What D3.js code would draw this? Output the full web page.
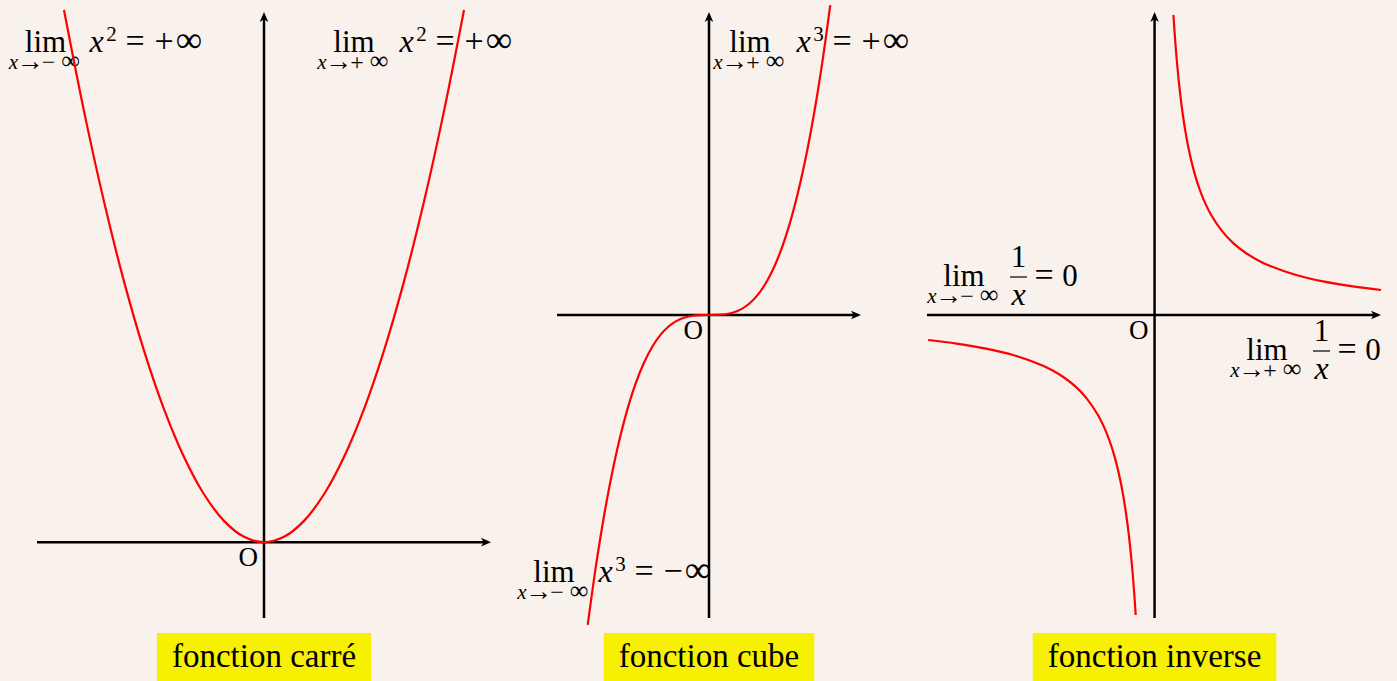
<!DOCTYPE html>
<html>
<head>
<meta charset="utf-8">
<script src="https://cdn.jsdelivr.net/npm/d3@7"></script>
<style>
  html, body { margin: 0; padding: 0; background: #f8f1ec; }
  svg { display: block; }
  text { font-family: "Liberation Serif", "Times New Roman", serif; fill: #000; }
</style>
</head>
<body>
<svg id="chart" width="1397" height="681"></svg>
<script>
// ---- sampled values of the three reference functions ----
// y = x²
const squareX = [-2, -1.8, -1.6, -1.4, -1.2, -1, -0.8, -0.6, -0.4, -0.2, 0, 0.2, 0.4, 0.6, 0.8, 1, 1.2, 1.4, 1.6, 1.8, 2];
const squareY = [4, 3.24, 2.56, 1.96, 1.44, 1, 0.64, 0.36, 0.16, 0.04, 0, 0.04, 0.16, 0.36, 0.64, 1, 1.44, 1.96, 2.56, 3.24, 4];

// y = x³
const cubeX = [-1.5, -1.4, -1.3, -1.2, -1.1, -1, -0.9, -0.8, -0.7, -0.6, -0.5, -0.4, -0.3, -0.2, -0.1, 0,
               0.1, 0.2, 0.3, 0.4, 0.5, 0.6, 0.7, 0.8, 0.9, 1, 1.1, 1.2, 1.3, 1.4, 1.5];
const cubeY = [-3.375, -2.744, -2.197, -1.728, -1.331, -1, -0.729, -0.512, -0.343, -0.216, -0.125, -0.064, -0.027, -0.008, -0.001, 0,
               0.001, 0.008, 0.027, 0.064, 0.125, 0.216, 0.343, 0.512, 0.729, 1, 1.331, 1.728, 2.197, 2.744, 3.375];

// y = 1/x, branch x > 0
const inversePosX = [0.3333, 0.36, 0.4, 0.45, 0.5, 0.55, 0.6, 0.7, 0.8, 0.9, 1, 1.2, 1.4, 1.6, 1.8, 2, 2.5, 3, 3.5, 4];
const inversePosY = [3, 2.7778, 2.5, 2.2222, 2, 1.8182, 1.6667, 1.4286, 1.25, 1.1111, 1, 0.8333, 0.7143, 0.625, 0.5556, 0.5, 0.4, 0.3333, 0.2857, 0.25];
// y = 1/x, branch x < 0
const inverseNegX = [-4, -3.5, -3, -2.5, -2, -1.8, -1.6, -1.4, -1.2, -1, -0.9, -0.8, -0.7, -0.6, -0.55, -0.5, -0.45, -0.4, -0.36, -0.3333];
const inverseNegY = [-0.25, -0.2857, -0.3333, -0.4, -0.5, -0.5556, -0.625, -0.7143, -0.8333, -1, -1.1111, -1.25, -1.4286, -1.6667, -1.8182, -2, -2.2222, -2.5, -2.7778, -3];

// axis extents (in function units) for each graph
const squareAxisX = [-2.27, 2.27];
const squareAxisY = [-0.57, 3.985];
const cubeAxisX = [-1.88, 1.88];
const cubeAxisY = [-3.3, 3.3];
const inverseAxisX = [-4.02, 4.0];
const inverseAxisY = [-3.03, 3.03];

const panelTitles = ["fonction carré", "fonction cube", "fonction inverse"];

// ---- drawing ----
const svg = d3.select("#chart");
const RED = "#ff0000";
const YELLOW = "#f7f000";
const MAIN = 31, SUB = 21;

const zip = (xs, ys) => xs.map((x, i) => [x, ys[i]]);

const panels = [
  { axX: squareAxisX, axY: squareAxisY, xr: [37, 491], yr: [618, 12],
    branches: [zip(squareX, squareY)], title: panelTitles[0] },
  { axX: cubeAxisX, axY: cubeAxisY, xr: [557, 861], yr: [618, 12],
    branches: [zip(cubeX, cubeY)], title: panelTitles[1] },
  { axX: inverseAxisX, axY: inverseAxisY, xr: [927, 1381], yr: [618, 12],
    branches: [zip(inversePosX, inversePosY), zip(inverseNegX, inverseNegY)], title: panelTitles[2] }
];

const labelLayer = svg.append("g");
const axisLayer = svg.append("g");
const curveLayer = svg.append("g");
const titleLayer = svg.append("g");

// one <text> per formula; each glyph is a tspan centred on its own x
function formula(pieces) {
  const t = labelLayer.append("text").attr("font-size", MAIN);
  pieces.forEach(p => {
    const s = t.append("tspan")
      .attr("x", p.x).attr("y", p.y)
      .attr("text-anchor", "middle")
      .attr("font-size", p.size || MAIN)
      .text(p.t);
    if (p.it) s.attr("font-style", "italic");
  });
  return t;
}

// "lim" with its x → ±∞ subscript, centred on cx
function limPieces(cx, base, sign) {
  const sb = base + 17;
  return [
    { t: "lim", x: cx, y: base },
    { t: "x", x: cx - 32, y: sb, size: SUB, it: true },
    { t: "→", x: cx - 15.5, y: sb + 1, size: 27 },
    { t: sign, x: cx + 3, y: sb + 1, size: 24 },
    { t: "∞", x: cx + 25, y: sb, size: 26 }
  ];
}

// x^n = ±∞ starting at x0
function powerPieces(x0, base, n, sign) {
  return [
    { t: "x", x: x0 + 8.5, y: base, it: true, size: 32 },
    { t: n, x: x0 + 23.5, y: base - 11, size: SUB },
    { t: "=", x: x0 + 47, y: base, size: 34 },
    { t: sign, x: x0 + 76, y: base, size: 34 },
    { t: "∞", x: x0 + 101, y: base, size: 37 }
  ];
}

// (1 / x) = 0 right of the limit centred on cx
function inversePieces(cx, base) {
  labelLayer.append("line")
    .attr("x1", cx + 46).attr("x2", cx + 63)
    .attr("y1", base - 9).attr("y2", base - 9)
    .attr("stroke", "#000").attr("stroke-width", 1.2);
  return [
    { t: "1", x: cx + 54.5, y: base - 19 },
    { t: "x", x: cx + 54.5, y: base + 19, it: true, size: 32 },
    { t: "=", x: cx + 80, y: base, size: 34 },
    { t: "0", x: cx + 106, y: base }
  ];
}

formula([...limPieces(45.5, 52, "−"), ...powerPieces(88, 52, "2", "+")]);
formula([...limPieces(354, 52, "+"), ...powerPieces(398, 52, "2", "+")]);
formula([...limPieces(750, 52, "+"), ...powerPieces(795, 52, "3", "+")]);
formula([...limPieces(554, 582, "−"), ...powerPieces(597, 582, "3", "−")]);
formula([...limPieces(964, 286, "−"), ...inversePieces(964, 286)]);
formula([...limPieces(1267, 360, "+"), ...inversePieces(1267, 360)]);

function arrowHead(g, x, y, angle) {
  g.append("path")
    .attr("d", "M0,0 L-10,-4.3 L-7.3,0 L-10,4.3 Z")
    .attr("transform", `translate(${x},${y}) rotate(${angle})`)
    .attr("fill", "#000");
}

panels.forEach(p => {
  const x = d3.scaleLinear().domain(p.axX).range(p.xr);
  const y = d3.scaleLinear().domain(p.axY).range(p.yr);
  const ox = x(0), oy = y(0);

  // axes with arrow tips
  axisLayer.append("line")
    .attr("x1", x(p.axX[0])).attr("x2", x(p.axX[1]) - 5)
    .attr("y1", oy).attr("y2", oy)
    .attr("stroke", "#000").attr("stroke-width", 2.5);
  arrowHead(axisLayer, x(p.axX[1]), oy, 0);
  axisLayer.append("line")
    .attr("x1", ox).attr("x2", ox)
    .attr("y1", y(p.axY[0])).attr("y2", y(p.axY[1]) + 5)
    .attr("stroke", "#000").attr("stroke-width", 2.5);
  arrowHead(axisLayer, ox, y(p.axY[1]), -90);

  // origin label
  axisLayer.append("text")
    .attr("x", ox - 6).attr("y", oy + 24)
    .attr("text-anchor", "end")
    .attr("font-size", 27)
    .text("O");

  // curve(s)
  const line = d3.line()
    .x(d => x(d[0])).y(d => y(d[1]))
    .curve(d3.curveCatmullRom.alpha(0.5));
  p.branches.forEach(b => {
    curveLayer.append("path")
      .attr("d", line(b))
      .attr("fill", "none")
      .attr("stroke", RED)
      .attr("stroke-width", 2.2);
  });

  // title box
  const tg = titleLayer.append("g");
  const rect = tg.append("rect").attr("fill", YELLOW);
  const t = tg.append("text")
    .attr("x", ox).attr("y", 667)
    .attr("text-anchor", "middle")
    .attr("font-size", 33)
    .text(p.title);
  const w = t.node().getComputedTextLength();
  rect.attr("x", ox - w / 2 - 15).attr("y", 633)
    .attr("width", w + 30).attr("height", 50);
});
</script>
</body>
</html>
